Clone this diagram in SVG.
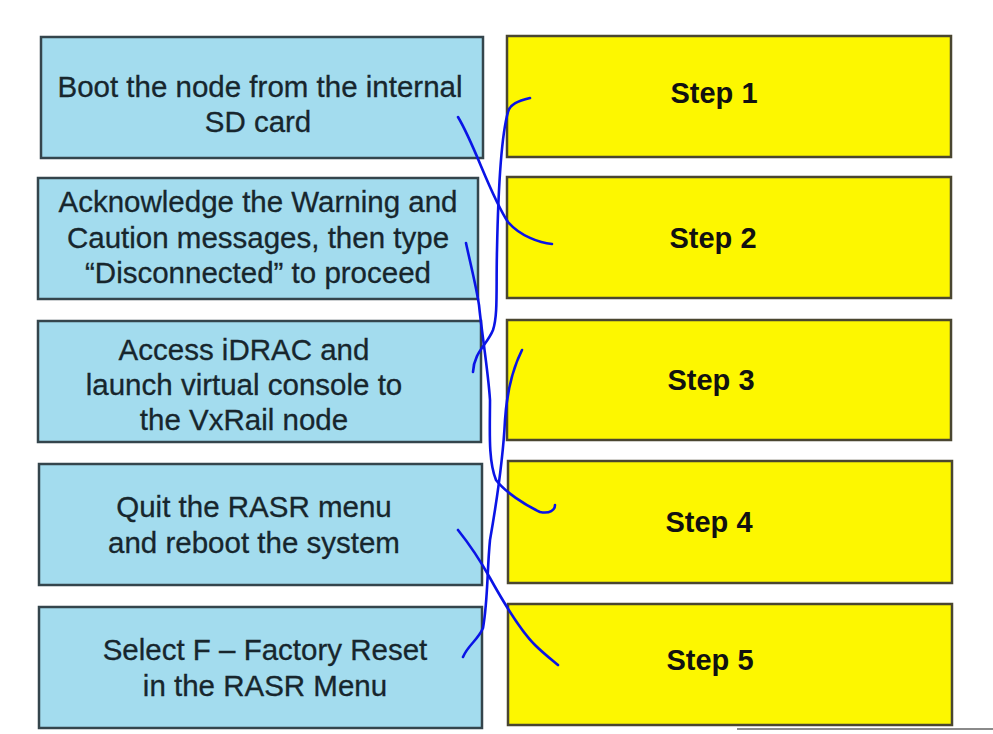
<svg xmlns="http://www.w3.org/2000/svg" width="993" height="734" viewBox="0 0 993 734">
<style>
.task rect{fill:#a3dcee;stroke:#34454c;stroke-width:2.5}
.step rect{fill:#fdf700;stroke:#4a4630;stroke-width:2.5}
.task text{font-family:"Liberation Sans",Arial,sans-serif;font-size:29.5px;fill:#17262d;stroke:#17262d;stroke-width:0.3;text-anchor:middle}
.step text{font-family:"Liberation Sans",Arial,sans-serif;font-size:29px;font-weight:bold;fill:#111;text-anchor:middle}
.ink{fill:none;stroke:#0a14e6;stroke-width:2.6;stroke-linecap:round;stroke-linejoin:round}
</style>
<rect width="993" height="734" fill="#ffffff"/>
<g id="task-boot" class="task">
<rect x="41" y="37" width="442" height="121"/>
<text x="260" y="97">Boot the node from the internal</text>
<text x="258" y="132">SD card</text>
</g>
<g id="task-ack" class="task">
<rect x="38" y="178" width="440" height="121"/>
<text x="258" y="212">Acknowledge the Warning and</text>
<text x="258" y="248">Caution messages, then type</text>
<text x="258" y="283">“Disconnected” to proceed</text>
</g>
<g id="task-idrac" class="task">
<rect x="38" y="321" width="443" height="121"/>
<text x="244" y="360">Access iDRAC and</text>
<text x="244" y="395">launch virtual console to</text>
<text x="244" y="430">the VxRail node</text>
</g>
<g id="task-quit" class="task">
<rect x="39" y="464" width="443" height="121"/>
<text x="254" y="517">Quit the RASR menu</text>
<text x="254" y="553">and reboot the system</text>
</g>
<g id="task-select" class="task">
<rect x="39" y="607" width="443" height="121"/>
<text x="265" y="660">Select F – Factory Reset</text>
<text x="265" y="696">in the RASR Menu</text>
</g>
<g id="step-1" class="step">
<rect x="507" y="36" width="444" height="121"/>
<text x="714" y="103">Step 1</text>
</g>
<g id="step-2" class="step">
<rect x="507" y="177" width="444" height="121"/>
<text x="713" y="248">Step 2</text>
</g>
<g id="step-3" class="step">
<rect x="507" y="320" width="444" height="120"/>
<text x="711" y="390">Step 3</text>
</g>
<g id="step-4" class="step">
<rect x="508" y="461" width="444" height="122"/>
<text x="709" y="532">Step 4</text>
</g>
<g id="step-5" class="step">
<rect x="508" y="604" width="444" height="121"/>
<text x="710" y="670">Step 5</text>
</g>
<g id="connectors">
<path class="ink" d="M458,117 C475,145 490,195 508,222 C520,236 540,243 552,244"/>
<path class="ink" d="M530,98 C518,101 510,104 508,112 C500,140 498,200 497,250 C496,290 498,315 493,330 C487,345 474,352 473,372"/>
<path class="ink" d="M466,243 C470,262 476,285 479,305 C482,335 488,370 490,400 C490,430 488,460 496,480 C505,492 525,505 540,512 C550,514 555,510 555,505"/>
<path class="ink" d="M522,350 C512,370 507,390 505,420 C503,460 497,500 490,540 C487,570 488,600 483,628 C478,640 468,645 463,657"/>
<path class="ink" d="M458,530 C470,545 480,560 490,578 C505,605 520,630 535,645 C543,653 552,660 558,665"/>
</g>
<line x1="737" y1="729" x2="993" y2="729" stroke="#8a8a8a" stroke-width="2"/>
</svg>
